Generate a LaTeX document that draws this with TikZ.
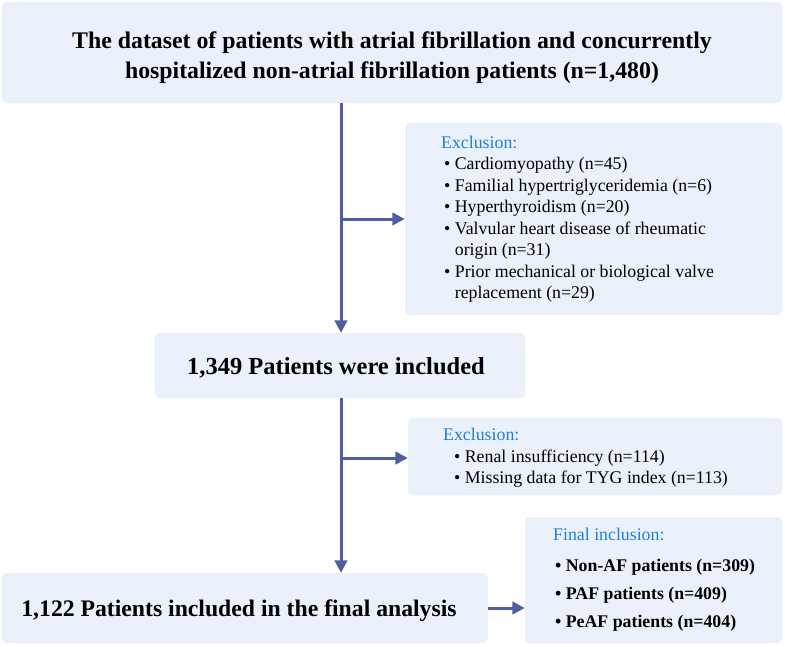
\documentclass[tikz,border=0pt]{standalone}
\usepackage{fontspec}
\setmainfont{Liberation Serif}
\usetikzlibrary{arrows.meta}
\definecolor{boxfill}{HTML}{EAF1FA}
\definecolor{arrowcol}{HTML}{4F5E9E}
\definecolor{labelblue}{HTML}{1E7FD8}
\tikzset{
  box/.style={draw=none, fill=boxfill, rounded corners=4pt, inner sep=0pt},
  bigtext/.style={font=\fontsize{23.8}{30}\selectfont\bfseries, align=center, inner sep=0pt},
  listtext/.style={font=\fontsize{17.8}{21.5}\selectfont, align=left, inner sep=0pt, anchor=west},
  flow/.style={draw=arrowcol, line width=3pt, -{Triangle[length=12.5pt,width=12.5pt]}},
}
\begin{document}
\begin{tikzpicture}[x=1pt,y=-1pt]
\useasboundingbox (0,0) rectangle (785,646);
% boxes
\node[box, minimum width=780pt, minimum height=101pt] (b1) at (392,52.5) {};
\node[bigtext] (t1) at (392,58) {The dataset of patients with atrial fibrillation and concurrently\\hospitalized non-atrial fibrillation patients (n=1,480)};
\node[box, minimum width=377pt, minimum height=192pt] (e1) at (593.5,219) {};
\node[listtext] (te1) at (441,219) {\textcolor{labelblue}{Exclusion:}\\
\hspace{3pt}\textbullet\ Cardiomyopathy (n=45)\\
\hspace{3pt}\textbullet\ Familial hypertriglyceridemia (n=6)\\
\hspace{3pt}\textbullet\ Hyperthyroidism (n=20)\\
\hspace{3pt}\textbullet\ Valvular heart disease of rheumatic\\
\hspace{3pt}\phantom{\textbullet\ }origin (n=31)\\
\hspace{3pt}\textbullet\ Prior mechanical or biological valve\\
\hspace{3pt}\phantom{\textbullet\ }replacement (n=29)};
\node[box, minimum width=370pt, minimum height=65pt] (b2) at (340,365.5) {};
\node[bigtext, font=\fontsize{24.5}{30}\selectfont\bfseries] (t2) at (336,368) {1,349 Patients were included};
\node[box, minimum width=374pt, minimum height=77pt] (e2) at (595,456.5) {};
\node[listtext] (te2) at (443,458) {\textcolor{labelblue}{Exclusion:}\\
\hspace{11pt}\textbullet\ Renal insufficiency (n=114)\\
\hspace{11pt}\textbullet\ Missing data for TYG index (n=113)};
\node[box, minimum width=486pt, minimum height=70pt] (b3) at (245,608) {};
\node[bigtext, font=\fontsize{23.7}{30}\selectfont\bfseries] (t3) at (239,611) {1,122 Patients included in the final analysis};
\node[box, minimum width=257pt, minimum height=126pt] (f) at (653.5,580) {};
\node[listtext, font=\fontsize{17.8}{28}\selectfont] (tf) at (553,580) {\textcolor{labelblue}{Final inclusion:}\\[3pt]
\hspace{2pt}\textbf{\textbullet\ Non-AF patients (n=309)}\\
\hspace{2pt}\textbf{\textbullet\ PAF patients (n=409)}\\
\hspace{2pt}\textbf{\textbullet\ PeAF patients (n=404)}};
% connectors
\coordinate (j1) at (341,219);
\coordinate (j2) at (341,458);
\draw[flow] (b1.south -| j1) -- (b2.north -| j1);
\draw[flow] (j1) -- (e1.west |- j1);
\draw[flow] (b2.south -| j2) -- (b3.north -| j2);
\draw[flow] (j2) -- (e2.west |- j2);
\draw[flow] (b3.east) -- (f.west |- b3.east);
\end{tikzpicture}
\end{document}
